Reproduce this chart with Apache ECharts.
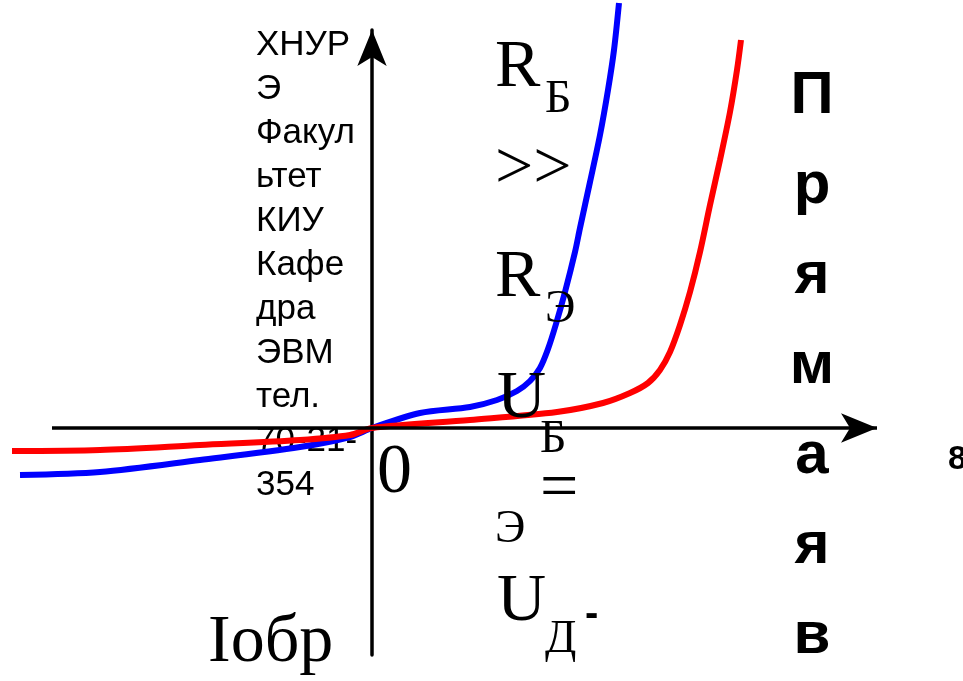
<!DOCTYPE html>
<html>
<head>
<meta charset="utf-8">
<script src="https://cdn.jsdelivr.net/npm/echarts@6/dist/echarts.min.js"></script>
<style>
  html, body { margin: 0; padding: 0; background: #fff; }
  #main { width: 963px; height: 681px; }
</style>
</head>
<body>
<div id="main"></div>
<script>
// ВАХ: напряжение (x) и ток (y), две кривые
const blueU = [-7.04, -5.44, -3.44, -1.44, -0.44, 0, 0.96, 1.96, 2.5, 2.9, 3.16, 3.36, 3.52, 3.68, 3.86, 4.06, 4.16, 4.36, 4.56, 4.72, 4.84, 4.94];
const blueI = [-4.7, -4.4, -3.2, -1.9, -0.9, 0, 1.5, 2.1, 2.8, 3.7, 4.7, 6.0, 7.9, 10.4, 13.6, 17.6, 20.0, 24.6, 29.3, 33.8, 37.8, 42.5];
const redU = [-7.2, -5.44, -3.44, -1.44, -0.44, 0, 1.96, 3.7, 4.62, 5.16, 5.52, 5.76, 5.96, 6.16, 6.36, 6.56, 6.76, 6.96, 7.16, 7.3, 7.38];
const redI = [-2.3, -2.2, -1.7, -1.2, -0.7, 0, 0.8, 1.6, 2.5, 3.5, 4.5, 5.8, 7.6, 10.3, 13.6, 17.6, 22.3, 26.8, 31.6, 35.8, 38.8];

// горизонтальная ось (от, до)
const axisU = [-6.4, 10.1];

// подписи
const leftLines = ['ХНУР', 'Э', 'Факул', 'ьтет', 'КИУ', 'Кафе', 'дра', 'ЭВМ', 'тел.', '70-21-', '354'];
const rightLetters = ['П', 'р', 'я', 'м', 'а', 'я', 'в'];

const zip = (xs, ys) => xs.map((x, i) => [x, ys[i]]);

const serif = 'Liberation Serif';
const sans = 'Liberation Sans';

// текст поверх кривых
const txt = (x, y, text, size, family, weight) => ({
    type: 'text',
    x: x,
    y: y,
    z: 100,
    style: {
        text: text,
        font: (weight || 'normal') + ' ' + size + 'px "' + family + '"',
        fill: '#000',
        align: 'left',
        verticalAlign: 'middle'
    }
});

const chartDom = document.getElementById('main');
const myChart = echarts.init(chartDom);

const option = {
    animation: false,
    backgroundColor: '#fff',
    grid: { left: 12, right: 86, top: 30, bottom: 26 },
    xAxis: {
        type: 'value',
        min: -7.2,
        max: 10.1,
        axisLine: { show: false },
        axisTick: { show: false },
        axisLabel: { show: false },
        splitLine: { show: false }
    },
    yAxis: {
        type: 'value',
        min: -22.7,
        max: 39.8,
        axisLine: {
            show: true,
            symbol: ['none', 'arrow'],
            symbolSize: [22, 36],
            lineStyle: { color: '#000', width: 3.5 }
        },
        axisTick: { show: false },
        axisLabel: { show: false },
        splitLine: { show: false }
    },
    series: [
        {
            // только для горизонтальной оси со стрелкой
            type: 'line',
            data: [[0, 0]],
            symbol: 'none',
            silent: true,
            lineStyle: { width: 0 },
            markLine: {
                silent: true,
                animation: false,
                symbol: ['none', 'arrow'],
                symbolSize: [22, 36],
                label: { show: false },
                lineStyle: { color: '#000', width: 3.5, type: 'solid' },
                data: [[{ coord: [axisU[0], 0] }, { coord: [axisU[1], 0] }]]
            }
        },
        {
            type: 'line',
            data: zip(blueU, blueI),
            smooth: 0.3,
            symbol: 'none',
            clip: false,
            lineStyle: { color: '#0000ff', width: 6 }
        },
        {
            type: 'line',
            data: zip(redU, redI),
            smooth: 0.3,
            symbol: 'none',
            clip: false,
            lineStyle: { color: '#ff0000', width: 6 }
        }
    ],
    graphic: [
        {
            type: 'text',
            x: 256,
            y: 23,
            z: -1,
            style: {
                text: leftLines.join('\n'),
                font: '35px "' + sans + '"',
                lineHeight: 44,
                fill: '#000',
                align: 'left',
                verticalAlign: 'top'
            }
        },
        {
            type: 'text',
            x: 812,
            y: 51,
            z: 100,
            style: {
                text: rightLetters.join('\n'),
                font: 'bold 60px "' + sans + '"',
                lineHeight: 90,
                fill: '#000',
                align: 'center',
                verticalAlign: 'top'
            }
        },
        txt(495, 68, 'R', 68, serif),
        txt(545, 100, 'Б', 46, serif),
        txt(495, 170, '>>', 68, serif),
        txt(495, 278, 'R', 68, serif),
        txt(545, 310, 'Э', 46, serif),
        txt(497, 399, 'U', 68, serif),
        txt(540, 440, 'Б', 46, serif),
        txt(540, 490, '=', 68, serif),
        txt(495, 530, 'Э', 46, serif),
        txt(497, 602, 'U', 68, serif),
        txt(545, 640, 'Д', 46, serif),
        txt(585, 615, '-', 40, sans, 'bold'),
        txt(377, 474, '0', 70, serif),
        txt(208, 643, 'Iобр', 68, serif),
        txt(948, 460, '8', 34, sans, 'bold')
    ]
};

option && myChart.setOption(option);
</script>
</body>
</html>
